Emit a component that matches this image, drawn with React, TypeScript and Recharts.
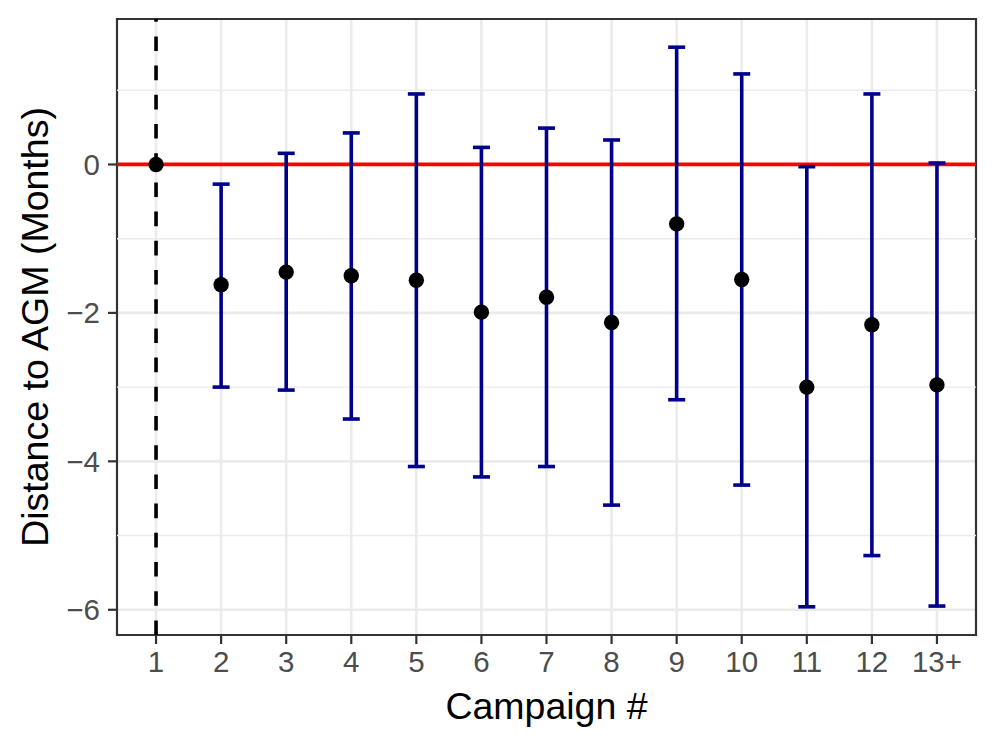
import {
  CartesianGrid,
  ComposedChart,
  ErrorBar,
  ReferenceArea,
  ReferenceLine,
  Scatter,
  XAxis,
  YAxis,
} from "recharts"

const categories = ["1", "2", "3", "4", "5", "6", "7", "8", "9", "10", "11", "12", "13+"]
const means = [0, -1.62, -1.45, -1.5, -1.56, -1.99, -1.79, -2.13, -0.8, -1.55, -3.0, -2.16, -2.97]
const lowers = [null, -3.0, -3.04, -3.43, -4.07, -4.21, -4.07, -4.59, -3.17, -4.32, -5.96, -5.27, -5.95]
const uppers = [null, -0.265, 0.15, 0.425, 0.95, 0.23, 0.49, 0.33, 1.58, 1.22, -0.03, 0.95, 0.02]

const yTicks = [-6, -4, -2, 0]
const yMinor = [-5, -3, -1, 1]
const xTicks = categories.map((_, i) => i + 1)

const FONT = "'Liberation Sans', Arial, Helvetica, sans-serif"

const rows = categories.map((name, i) => {
  const lo = lowers[i]
  const hi = uppers[i]
  return {
    x: i + 1,
    name,
    mean: means[i],
    err: lo == null || hi == null ? null : [means[i] - lo, hi - means[i]],
  }
})

const Dot = (props: any) => <circle cx={props.cx} cy={props.cy} r={7.7} fill="#000000" />

export default function App() {
  return (
    <div style={{ position: "absolute", left: 0, top: 0, background: "#fff" }}>
      <ComposedChart
        width={996}
        height={747}
        data={rows}
        margin={{ top: 19, right: 20, bottom: 0, left: 0 }}
        style={{ fontFamily: FONT }}
      >
        <CartesianGrid
          stroke="#EBEBEB"
          strokeWidth={2.6}
          horizontalValues={yTicks}
          verticalValues={xTicks}
        />
        {yMinor.map((v) => (
          <ReferenceLine key={v} y={v} stroke="#EBEBEB" strokeWidth={1.4} />
        ))}
        <XAxis
          type="number"
          dataKey="x"
          domain={[0.4, 13.6]}
          ticks={xTicks}
          interval={0}
          allowDataOverflow
          height={112}
          tickSize={9}
          tickMargin={7}
          axisLine={false}
          tickLine={{ stroke: "#333333", strokeWidth: 2.2 }}
          tick={{ fill: "#4D4D4D", fontSize: 29.5, fontFamily: FONT }}
          tickFormatter={(v: number) => categories[v - 1]}
          label={() => (
            <text x={546.5} y={719} textAnchor="middle" fontSize={37.5} fill="#000" fontFamily={FONT}>
              Campaign #
            </text>
          )}
        />
        <YAxis
          type="number"
          domain={[-6.34, 1.96]}
          ticks={yTicks}
          allowDataOverflow
          width={117}
          tickSize={9}
          tickMargin={8}
          axisLine={false}
          tickLine={{ stroke: "#333333", strokeWidth: 2.2 }}
          tick={{ fill: "#4D4D4D", fontSize: 29.5, fontFamily: FONT }}
          tickFormatter={(v: number) => String(v).replace("-", "\u2212")}
          label={() => (
            <text
              x={48}
              y={327}
              textAnchor="middle"
              fontSize={37.5}
              fill="#000"
              fontFamily={FONT}
              transform="rotate(-90, 48, 327)"
            >
              Distance to AGM (Months)
            </text>
          )}
        />
        <ReferenceLine y={0} stroke="#FF0000" strokeWidth={3.8} />
        <ReferenceLine x={1} stroke="#000000" strokeWidth={3.6} strokeDasharray="14.6 14.6" />
        <Scatter dataKey="mean" fill="#000" shape={Dot} isAnimationActive={false}>
          <ErrorBar
            dataKey="err"
            direction="y"
            width={8.5}
            stroke="#00008B"
            strokeWidth={3.6}
            style={{ strokeWidth: 3.6 }}
            isAnimationActive={false}
          />
        </Scatter>
        <ReferenceArea
          x1={0.4}
          x2={13.6}
          y1={-6.34}
          y2={1.96}
          fill="none"
          fillOpacity={0}
          stroke="#333333"
          strokeWidth={2.2}
          ifOverflow="visible"
        />
      </ComposedChart>
    </div>
  )
}
